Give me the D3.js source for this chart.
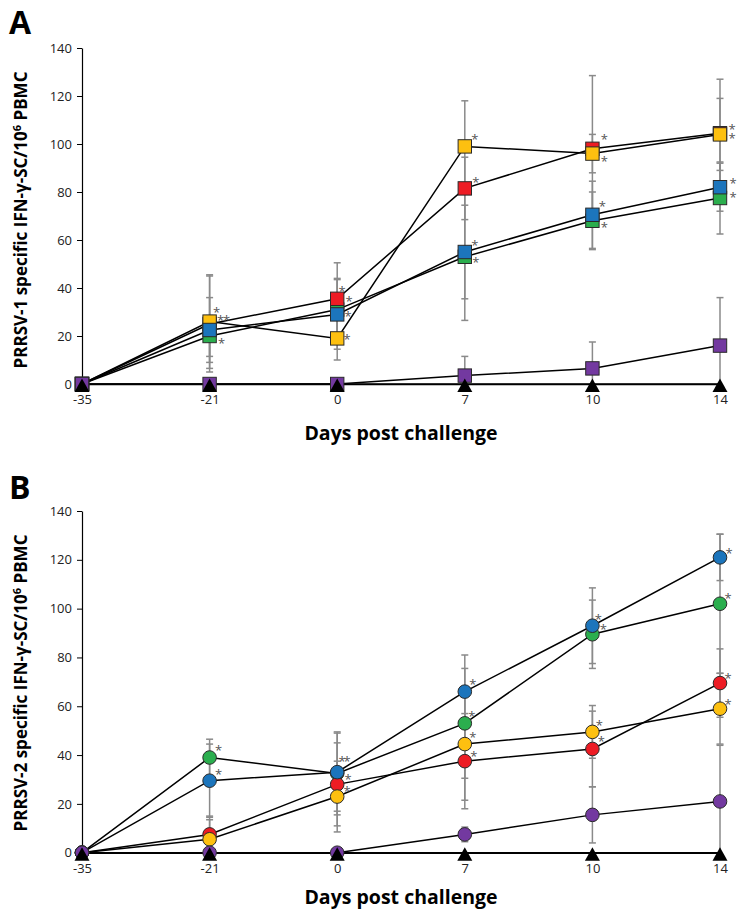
<!DOCTYPE html>
<html><head><meta charset="utf-8">
<script src="https://cdn.jsdelivr.net/npm/d3@7"></script>
<style>
body{margin:0;background:#fff}
text{font-family:"Open Sans","Noto Sans",sans-serif}
</style>
</head><body>
<svg id="chart" width="746" height="919"></svg>
<script>
// ---------- shared ----------
const days = ["-35", "-21", "0", "7", "10", "14"];
const yTicks = [0, 20, 40, 60, 80, 100, 120, 140];
const seriesOrder = ["green", "red", "yellow", "blue", "purple"];
const seriesColors = {green: "#2BAE4E", red: "#ED1C24", yellow: "#FDC010", blue: "#1C75BC", purple: "#7339A0"};
const controlValues = [0, 0, 0, 0, 0, 0];

// ---------- Panel A: PRRSV-1 (means) ----------
const aGreen  = [0, 20, 31, 53, 68, 77.5];
const aRed    = [0, 25, 35.5, 81.5, 98, 104.5];
const aYellow = [0, 26, 19, 99, 96, 104];
const aBlue   = [0, 22.5, 29, 55, 70.5, 82];
const aPurple = [0, 0, 0, 3.5, 6.5, 16];
// Panel A: error (SD)
const aGreenErr  = [0, 8.5, 13, 26.5, 12, 15];
const aRedErr    = [0, 20, 15, 13, 30.5, 22.5];
const aYellowErr = [0, 19.5, 9, 19, 8, 15];
const aBlueErr   = [0, 13.5, 14.5, 19.5, 14, 10];
const aPurpleErr = [0, 0, 0, 8, 11, 20];
// Panel A: significance asterisks [dx, dy] from marker centre (null = none)
const aGreenStar  = [null, [12, 4], [12, -11], [11, 3], [12, 4], [13, -4]];
const aRedStar    = [null, [11, -7], [5, -10], [11, -9], [12, -12], [12, -7]];
const aYellowStar = [null, [7, -12], [10, -2], [10, -10], [12, 5], [12, 1]];
const aBlueStar   = [null, [17, -13], [11, -1], [10, -10], [10, -11], [13, -7]];
const aPurpleStar = [null, null, null, null, null, null];

// ---------- Panel B: PRRSV-2 (means) ----------
const bGreen  = [0, 39, 32.5, 53, 89.5, 102];
const bRed    = [0, 7.5, 28, 37.5, 42.5, 69.5];
const bYellow = [0, 5.5, 23, 44.5, 49.5, 59];
const bBlue   = [0, 29.5, 33, 66, 93, 121];
const bPurple = [0, 0, 0, 7.5, 15.5, 21];
// Panel B: error (SD)
const bGreenErr  = [0, 7.5, 17, 22.5, 14, 28.5];
const bRedErr    = [0, 6, 17, 19.5, 15.5, 14];
const bYellowErr = [0, 9.5, 14.5, 23, 10.8, 14.5];
const bBlueErr   = [0, 15, 16, 15, 15.5, 9.5];
const bPurpleErr = [0, 0, 0, 3, 11.5, 23];
// Panel B: asterisks
const bGreenStar  = [null, [9, -10], [10, -15], [7, -10], [11, -8], [8, -8]];
const bRedStar    = [null, null, [11, -8], [9, -8], [9, -10], [8, -8]];
const bYellowStar = [null, null, [10, -8], [8, -10], [7, -9], [8, -7]];
const bBlueStar   = [null, [9, -9], [5, -14], [8, -10], [6, -9], [9, -7]];
const bPurpleStar = [null, null, null, null, null, null];

const panels = [
  {label: "A", virus: "PRRSV-1", shape: "square", top: 48, bottom: 384, labelY: 34, titleY: 440, yTitleC: 220,
   series: {green: [aGreen, aGreenErr, aGreenStar], red: [aRed, aRedErr, aRedStar], yellow: [aYellow, aYellowErr, aYellowStar],
            blue: [aBlue, aBlueErr, aBlueStar], purple: [aPurple, aPurpleErr, aPurpleStar]}},
  {label: "B", virus: "PRRSV-2", shape: "circle", top: 511, bottom: 852.7, labelY: 499, titleY: 904, yTitleC: 683,
   series: {green: [bGreen, bGreenErr, bGreenStar], red: [bRed, bRedErr, bRedStar], yellow: [bYellow, bYellowErr, bYellowStar],
            blue: [bBlue, bBlueErr, bBlueStar], purple: [bPurple, bPurpleErr, bPurpleStar]}}
];

const svg = d3.select("#chart");
const x = d3.scalePoint().domain(days).range([82, 720]).padding(0);

panels.forEach(p => {
  const y = d3.scaleLinear().domain([0, 140]).range([p.bottom, p.top]);
  const g = svg.append("g");

  // panel letter
  g.append("text").attr("x", 9).attr("y", p.labelY).attr("font-size", 32).attr("font-weight", 700)
    .attr("fill", "#000").text(p.label);

  // y axis
  const ya = g.append("g").attr("transform", `translate(${x(days[0])},0)`)
    .call(d3.axisLeft(y).tickValues(yTicks).tickSize(5).tickPadding(5).tickSizeOuter(0));
  ya.select(".domain").attr("stroke", "#000").attr("stroke-width", 1.2);
  ya.selectAll(".tick line").attr("stroke", "#000").attr("stroke-width", 1);
  ya.selectAll(".tick text").attr("font-size", 13).attr("fill", "#222").style("font-family", "'Open Sans',sans-serif");

  // x axis (labels only, line at 0)
  const xa = g.append("g").attr("transform", `translate(0,${y(0)})`)
    .call(d3.axisBottom(x).tickSize(0).tickPadding(11));
  xa.select(".domain").attr("stroke", "#000").attr("stroke-width", 1.5);
  xa.selectAll(".tick text").attr("font-size", 13).attr("fill", "#222").style("font-family", "'Open Sans',sans-serif");

  // titles
  g.append("text").attr("x", (x(days[0]) + x(days[days.length - 1])) / 2).attr("y", p.titleY)
    .attr("text-anchor", "middle").attr("font-size", 19.5).attr("font-weight", 700).attr("fill", "#000")
    .text("Days post challenge");
  const yt = g.append("text").attr("transform", `translate(27,${p.yTitleC}) rotate(-90)`)
    .attr("text-anchor", "middle").attr("font-size", 17).attr("font-weight", 700).attr("fill", "#000");
  yt.append("tspan").text(p.virus + " specific IFN-γ-SC/10");
  yt.append("tspan").attr("font-size", 11).attr("dy", -6).text("6");
  yt.append("tspan").attr("dy", 6).text(" PBMC");

  // error bars
  const eg = g.append("g").attr("stroke", "#8a8a8a").attr("stroke-width", 1.5);
  seriesOrder.forEach(k => {
    const [vals, errs] = p.series[k];
    vals.forEach((v, i) => {
      const e = errs[i];
      if (!e) return;
      const cx = x(days[i]);
      const hi = Math.min(v + e, 140), lo = Math.max(v - e, 0);
      eg.append("line").attr("x1", cx).attr("x2", cx).attr("y1", y(hi)).attr("y2", y(lo));
      eg.append("line").attr("x1", cx - 3.5).attr("x2", cx + 3.5).attr("y1", y(hi)).attr("y2", y(hi));
      if (v - e > 0) eg.append("line").attr("x1", cx - 3.5).attr("x2", cx + 3.5).attr("y1", y(lo)).attr("y2", y(lo));
    });
  });

  // lines
  const line = d3.line().x((d, i) => x(days[i])).y(d => y(d));
  seriesOrder.concat(["control"]).forEach(k => {
    const vals = k === "control" ? controlValues : p.series[k][0];
    g.append("path").attr("d", line(vals)).attr("fill", "none").attr("stroke", "#000").attr("stroke-width", 1.5);
  });

  // markers
  seriesOrder.forEach(k => {
    const vals = p.series[k][0];
    const mg = g.append("g");
    vals.forEach((v, i) => {
      const cx = x(days[i]), cy = y(v);
      if (p.shape === "square") {
        mg.append("rect").attr("x", cx - 6.7).attr("y", cy - 6.7).attr("width", 13.4).attr("height", 13.4)
          .attr("fill", seriesColors[k]).attr("stroke", "#2a2a2a").attr("stroke-width", 1);
      } else {
        mg.append("circle").attr("cx", cx).attr("cy", cy).attr("r", 6.8)
          .attr("fill", seriesColors[k]).attr("stroke", "#2a2a2a").attr("stroke-width", 1);
      }
    });
  });

  // control triangles
  controlValues.forEach((v, i) => {
    const cx = x(days[i]), cy = y(v);
    g.append("path").attr("d", `M${cx},${cy - 5.5}L${cx + 7.5},${cy + 8}L${cx - 7.5},${cy + 8}Z`).attr("fill", "#000");
  });

  // asterisks
  seriesOrder.forEach(k => {
    const [vals, , stars] = p.series[k];
    vals.forEach((v, i) => {
      const s = stars[i];
      if (!s) return;
      g.append("text").attr("x", x(days[i]) + s[0]).attr("y", y(v) + s[1] + 7.5)
        .attr("text-anchor", "middle").attr("font-size", 13).attr("fill", "#555").text("*");
    });
  });
});
</script>
</body></html>
